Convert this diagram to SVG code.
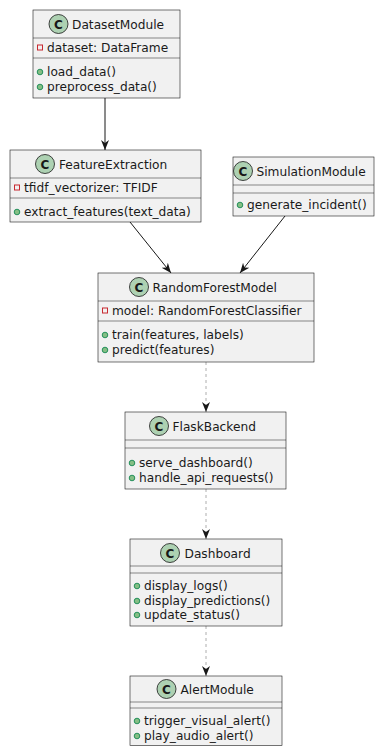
<svg xmlns="http://www.w3.org/2000/svg" width="375" height="746" viewBox="0 0 375 746">
  <style>
    .box { fill: #F1F1F1; stroke: #181818; stroke-width: 0.6; }
    .sep { stroke: #181818; stroke-width: 0.5; }
    .circ { fill: #ADD1B2; stroke: #181818; stroke-width: 0.8; }
    .cl { font-family: "DejaVu Sans", "Liberation Sans", sans-serif; font-size: 12px; font-weight: bold; fill: #181818; text-anchor: middle; }
    .title { font-family: "DejaVu Sans", "Liberation Sans", sans-serif; font-size: 12.2px; fill: #1a1a1a; }
    .mem { font-family: "DejaVu Sans", "Liberation Sans", sans-serif; font-size: 12.2px; fill: #1a1a1a; }
    .priv { fill: none; stroke: #C82930; stroke-width: 1; }
    .pub { fill: #84BE84; stroke: #038048; stroke-width: 0.8; }
    .solid { stroke: #181818; stroke-width: 1; fill: none; }
    .dotted { stroke: #9a9a9a; stroke-width: 0.8; fill: none; stroke-dasharray: 3,3; }
  </style>
  <defs>
    <marker id="head" viewBox="0 0 10 10" refX="10" refY="5" markerWidth="10" markerHeight="10" markerUnits="userSpaceOnUse" orient="auto">
      <path d="M0,1 L10,5 L0,9 L3,5 Z" fill="#181818"/>
    </marker>
  </defs>

  <rect width="375" height="746" fill="#FFFFFF"/>

  <!-- connectors -->
  <g id="connectors">
    <line class="solid" x1="105" y1="98" x2="105" y2="150" marker-end="url(#head)"/>
    <line class="solid" x1="130" y1="222" x2="171" y2="273" marker-end="url(#head)"/>
    <line class="solid" x1="285" y1="216" x2="240" y2="273" marker-end="url(#head)"/>
    <line class="dotted" x1="206" y1="362" x2="206" y2="412" marker-end="url(#head)"/>
    <line class="dotted" x1="206" y1="489" x2="206" y2="539" marker-end="url(#head)"/>
    <line class="dotted" x1="206" y1="626" x2="206" y2="676" marker-end="url(#head)"/>
  </g>

  <!-- DatasetModule -->
  <g id="DatasetModule">
    <rect class="box" x="33" y="10" width="147" height="88"/>
    <circle class="circ" cx="58.5" cy="24" r="9.5"/>
    <text class="cl" x="58.5" y="28.5">C</text>
    <text class="title" x="72" y="28.5">DatasetModule</text>
    <line class="sep" x1="33" y1="38" x2="180" y2="38"/>
    <rect class="priv" x="37.5" y="45" width="5" height="5"/>
    <text class="mem" x="47" y="52">dataset: DataFrame</text>
    <line class="sep" x1="33" y1="58" x2="180" y2="58"/>
    <circle class="pub" cx="40" cy="72" r="2.8"/>
    <text class="mem" x="47" y="76">load_data()</text>
    <circle class="pub" cx="40" cy="87" r="2.8"/>
    <text class="mem" x="47" y="91">preprocess_data()</text>
  </g>

  <!-- FeatureExtraction -->
  <g id="FeatureExtraction">
    <rect class="box" x="10" y="150" width="191" height="72"/>
    <circle class="circ" cx="45" cy="164" r="9.5"/>
    <text class="cl" x="45" y="168.5">C</text>
    <text class="title" x="59" y="168.5">FeatureExtraction</text>
    <line class="sep" x1="10" y1="178" x2="201" y2="178"/>
    <rect class="priv" x="14.5" y="185" width="5" height="5"/>
    <text class="mem" x="24" y="192">tfidf_vectorizer: TFIDF</text>
    <line class="sep" x1="10" y1="198" x2="201" y2="198"/>
    <circle class="pub" cx="17" cy="212" r="2.8"/>
    <text class="mem" x="24" y="216">extract_features(text_data)</text>
  </g>

  <!-- SimulationModule -->
  <g id="SimulationModule">
    <rect class="box" x="233" y="157" width="141" height="59"/>
    <circle class="circ" cx="243" cy="171" r="9.5"/>
    <text class="cl" x="243" y="175.5">C</text>
    <text class="title" x="256.5" y="175.5">SimulationModule</text>
    <line class="sep" x1="233" y1="185" x2="374" y2="185"/>
    <line class="sep" x1="233" y1="193" x2="374" y2="193"/>
    <circle class="pub" cx="240" cy="205" r="2.8"/>
    <text class="mem" x="247" y="209">generate_incident()</text>
  </g>

  <!-- RandomForestModel -->
  <g id="RandomForestModel">
    <rect class="box" x="98" y="273" width="216" height="89"/>
    <circle class="circ" cx="139" cy="287" r="9.5"/>
    <text class="cl" x="139" y="291.5">C</text>
    <text class="title" x="152.5" y="291.5">RandomForestModel</text>
    <line class="sep" x1="98" y1="301" x2="314" y2="301"/>
    <rect class="priv" x="102.5" y="308" width="5" height="5"/>
    <text class="mem" x="112" y="315">model: RandomForestClassifier</text>
    <line class="sep" x1="98" y1="321" x2="314" y2="321"/>
    <circle class="pub" cx="105" cy="335" r="2.8"/>
    <text class="mem" x="112" y="339">train(features, labels)</text>
    <circle class="pub" cx="105" cy="350" r="2.8"/>
    <text class="mem" x="112" y="354">predict(features)</text>
  </g>

  <!-- FlaskBackend -->
  <g id="FlaskBackend">
    <rect class="box" x="125" y="412" width="161" height="77"/>
    <circle class="circ" cx="159" cy="426" r="9.5"/>
    <text class="cl" x="159" y="430.5">C</text>
    <text class="title" x="172.5" y="430.5">FlaskBackend</text>
    <line class="sep" x1="125" y1="440" x2="286" y2="440"/>
    <line class="sep" x1="125" y1="448" x2="286" y2="448"/>
    <circle class="pub" cx="132" cy="463" r="2.8"/>
    <text class="mem" x="139" y="467">serve_dashboard()</text>
    <circle class="pub" cx="132" cy="478" r="2.8"/>
    <text class="mem" x="139" y="482">handle_api_requests()</text>
  </g>

  <!-- Dashboard -->
  <g id="Dashboard">
    <rect class="box" x="130" y="539" width="152" height="87"/>
    <circle class="circ" cx="170" cy="553" r="9.5"/>
    <text class="cl" x="170" y="557.5">C</text>
    <text class="title" x="184.5" y="557.5">Dashboard</text>
    <line class="sep" x1="130" y1="566" x2="282" y2="566"/>
    <line class="sep" x1="130" y1="573" x2="282" y2="573"/>
    <circle class="pub" cx="137" cy="586" r="2.8"/>
    <text class="mem" x="144" y="590">display_logs()</text>
    <circle class="pub" cx="137" cy="601" r="2.8"/>
    <text class="mem" x="144" y="605">display_predictions()</text>
    <circle class="pub" cx="137" cy="615" r="2.8"/>
    <text class="mem" x="144" y="619">update_status()</text>
  </g>

  <!-- AlertModule -->
  <g id="AlertModule">
    <rect class="box" x="130" y="676" width="152" height="69.5"/>
    <circle class="circ" cx="166.5" cy="689" r="9.5"/>
    <text class="cl" x="166.5" y="693.5">C</text>
    <text class="title" x="180.5" y="693.5">AlertModule</text>
    <line class="sep" x1="130" y1="702" x2="282" y2="702"/>
    <line class="sep" x1="130" y1="708" x2="282" y2="708"/>
    <circle class="pub" cx="137" cy="721" r="2.8"/>
    <text class="mem" x="144" y="725">trigger_visual_alert()</text>
    <circle class="pub" cx="137" cy="736" r="2.8"/>
    <text class="mem" x="144" y="740">play_audio_alert()</text>
  </g>
</svg>
